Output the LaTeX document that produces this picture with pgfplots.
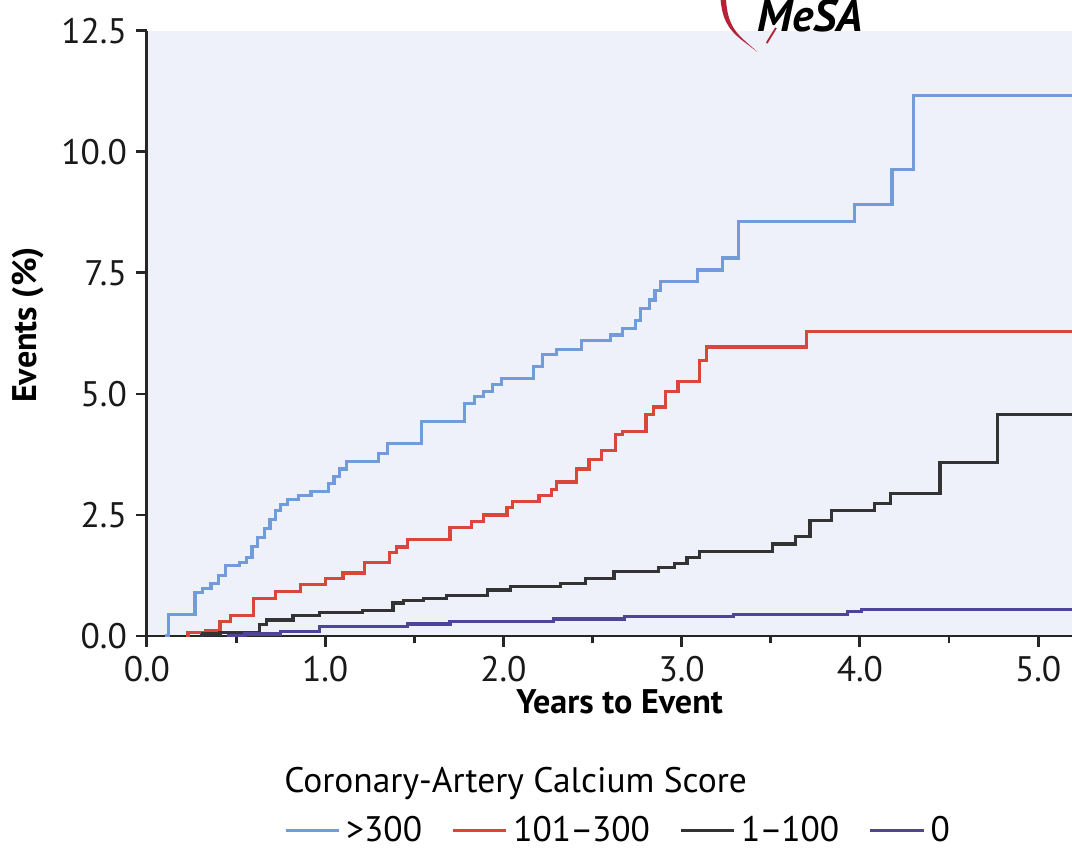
\documentclass[border=0pt]{standalone}
\usepackage{fontspec}
\setmainfont{PT Sans}
\usepackage{pgfplots}
\pgfplotsset{compat=1.18}
\definecolor{bgc}{HTML}{EEF0FA}
\definecolor{cblue}{HTML}{729BDA}
\definecolor{cred}{HTML}{D9473A}
\definecolor{cblack}{HTML}{333333}
\definecolor{cpurple}{HTML}{4F4499}
\definecolor{logored}{HTML}{B52238}
\begin{document}
\begin{tikzpicture}
\begin{axis}[
  scale only axis, width=346.9pt, height=226.9pt,
  xmin=0, xmax=5.19, ymin=0, ymax=12.5,
  clip mode=individual,
  axis x line*=bottom, axis y line*=left,
  axis line style={line width=1.1pt, color=black!85},
  axis background/.style={fill=bgc},
  xtick={0,1,2,3,4,5}, minor xtick={0.5,1.5,2.5,3.5,4.5},
  ytick={0,2.5,5,7.5,10,12.5},
  tick align=outside,
  major tick length=4pt, minor tick length=2.8pt,
  every tick/.style={line width=1.1pt, color=black!85},
  /pgf/number format/assume math mode=true,
  xticklabel={\pgfmathprintnumber[fixed,fixed zerofill,precision=1]{\tick}},
  yticklabel={\pgfmathprintnumber[fixed,fixed zerofill,precision=1]{\tick}},
  tick label style={font=\fontsize{13.3}{15}\selectfont, color=black!90},
  xlabel={\textbf{Years to Event}},
  xlabel style={at={(axis description cs:0.511,0)}, anchor=center, yshift=-24.7pt, font=\fontsize{12.8}{15}\selectfont},
  ylabel={\textbf{Events (\%)}},
  ylabel style={at={(axis description cs:0,0.514)}, anchor=center, yshift=44.6pt, font=\fontsize{12.8}{15}\selectfont},
  legend style={draw=none, fill=none, legend columns=4,
    at={(axis description cs:0.148,-0.322)}, anchor=west,
    font=\fontsize{13.3}{15}\selectfont, inner sep=0pt,
    /tikz/every even column/.append style={column sep=9pt}},
  legend image code/.code={\draw[#1,line width=1.2pt] (0pt,0pt) -- (20pt,0pt);},
  every axis plot/.append style={line width=1.2pt},
]
\addplot[cblue, const plot] coordinates {
(0.10,0) (0.12,0.45) (0.27,0.90) (0.31,0.98) (0.36,1.09) (0.40,1.25) (0.44,1.45)
(0.52,1.52) (0.56,1.62) (0.59,1.85) (0.62,2.04) (0.66,2.22) (0.69,2.40) (0.72,2.60)
(0.75,2.72) (0.79,2.82) (0.85,2.90) (0.92,2.98) (1.02,3.15) (1.05,3.30) (1.08,3.45)
(1.12,3.60) (1.30,3.77) (1.35,3.98) (1.54,4.43) (1.78,4.81) (1.84,4.94) (1.89,5.05)
(1.94,5.19) (1.99,5.32) (2.17,5.56) (2.22,5.81) (2.30,5.92) (2.44,6.10) (2.60,6.22)
(2.67,6.36) (2.74,6.52) (2.77,6.76) (2.82,6.94) (2.85,7.13) (2.88,7.33) (3.09,7.56)
(3.23,7.81) (3.32,8.57) (3.97,8.91) (4.18,9.63) (4.30,11.16) (5.19,11.16)};
\addlegendentry{>300}
\addplot[cred, const plot] coordinates {
(0.22,0) (0.23,0.08) (0.33,0.12) (0.41,0.30) (0.47,0.43) (0.60,0.78) (0.72,0.92)
(0.86,1.06) (1.00,1.18) (1.10,1.30) (1.22,1.52) (1.36,1.72) (1.40,1.84) (1.46,2.00)
(1.70,2.24) (1.82,2.36) (1.89,2.50) (2.02,2.65) (2.05,2.78) (2.20,2.90) (2.27,3.02)
(2.30,3.18) (2.41,3.45) (2.48,3.65) (2.55,3.84) (2.63,4.16) (2.67,4.22) (2.80,4.57)
(2.84,4.73) (2.91,5.05) (2.98,5.25) (3.10,5.69) (3.14,5.97) (3.70,6.29) (5.19,6.29)};
\addlegendentry{101\kern-0.5pt–\kern-0.5pt 300}
\addplot[cblack, const plot] coordinates {
(0.30,0) (0.31,0.04) (0.41,0.08) (0.63,0.23) (0.67,0.33) (0.82,0.43) (0.97,0.48)
(1.21,0.53) (1.38,0.68) (1.44,0.73) (1.55,0.78) (1.68,0.84) (1.91,0.95) (2.04,1.03)
(2.32,1.09) (2.46,1.18) (2.62,1.33) (2.87,1.41) (2.96,1.50) (3.03,1.62) (3.10,1.75)
(3.51,1.90) (3.64,2.06) (3.72,2.39) (3.84,2.59) (4.08,2.74) (4.17,2.95) (4.45,3.59)
(4.77,4.57) (5.19,4.57)};
\addlegendentry{1\kern-0.5pt–\kern-0.5pt 100}
\addplot[cpurple, const plot] coordinates {
(0.45,0) (0.55,0.04) (0.75,0.10) (0.97,0.19) (1.46,0.25) (1.70,0.30) (2.28,0.35)
(2.68,0.40) (3.29,0.45) (3.93,0.50) (4.01,0.55) (5.19,0.55)};
\addlegendentry{0}
% legend title
\node[anchor=west, inner sep=0pt, font=\fontsize{13.3}{15}\selectfont] at (axis description cs:0.148,-0.243) {Coronary-Artery Calcium Score};
% logo
\fill[logored] (rel axis cs:0.620,1.055) .. controls (rel axis cs:0.622,1.0) and (rel axis cs:0.64,0.99) .. (rel axis cs:0.660,0.965)
  .. controls (rel axis cs:0.643,0.99) and (rel axis cs:0.627,1.0) .. (rel axis cs:0.626,1.055) -- cycle;
\draw[logored, line width=0.7pt] (rel axis cs:0.680,1.005) -- (rel axis cs:0.670,0.98);
\node[anchor=center, inner sep=0pt, font=\fontsize{17}{18}\selectfont\bfseries\itshape] at (rel axis cs:0.717,1.025) {MeSA};
\end{axis}
\pgfresetboundingbox
\useasboundingbox (-55.1pt,-80.6pt) rectangle (346.9pt,238.5pt);
\end{tikzpicture}
\end{document}
